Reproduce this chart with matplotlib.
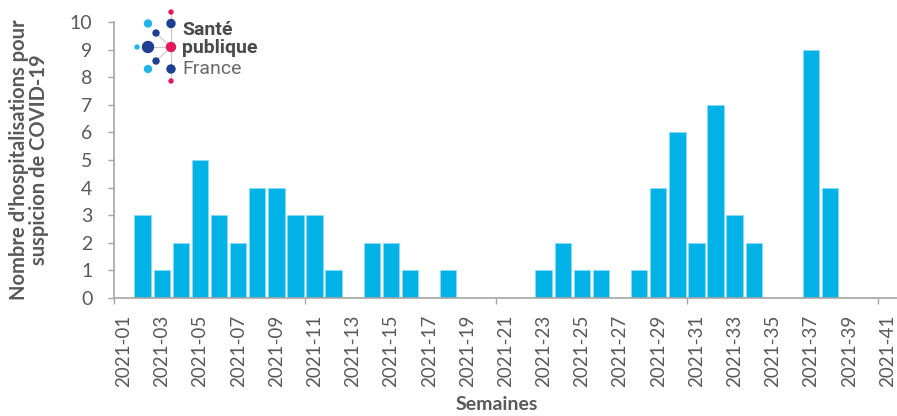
import numpy as np
import matplotlib.pyplot as plt
from matplotlib.patches import Circle

# Data
weeks = [f"2021-{w:02d}" for w in range(1, 42)]
counts = [0, 3, 1, 2, 5, 3, 2, 4, 4, 3, 3, 1, 0, 2, 2, 1, 0, 1, 0, 0, 0,
          0, 1, 2, 1, 1, 0, 1, 4, 6, 2, 7, 3, 2, 0, 0, 9, 4, 0, 0, 0]

text_grey = '#595959'
axis_grey = '#A6A6A6'
bar_blue = '#00B2E6'

plt.rcParams['font.family'] = ['Lato', 'DejaVu Sans']

fig = plt.figure(figsize=(8.97, 4.16), dpi=100)
ax = fig.add_axes([114 / 897, 1 - 298 / 416, 783 / 897, 276 / 416])

x = np.arange(len(weeks))
ax.bar(x, counts, width=0.86, color=bar_blue, edgecolor='#8ADAF5', linewidth=0.6)

ax.set_xlim(-0.5, len(weeks) - 0.5)
ax.set_ylim(0, 10)

# Y axis
ax.set_yticks(range(0, 11))
ax.tick_params(axis='y', length=4.5, width=1, color=axis_grey, pad=11,
               labelsize=14, labelcolor=text_grey)

# X axis: marks between categories every 10 weeks, labels every 2 weeks
ax.set_xticks(np.arange(-0.5, len(weeks), 10))
ax.set_xticklabels([])
ax.tick_params(axis='x', which='major', length=4.5, width=1, color=axis_grey)
ax.set_xticks(x[::2], minor=True)
ax.set_xticklabels(weeks[::2], minor=True, rotation=90)
ax.tick_params(axis='x', which='minor', length=0, pad=12,
               labelsize=13.5, labelcolor=text_grey)

for side in ['top', 'right']:
    ax.spines[side].set_visible(False)
for side in ['left', 'bottom']:
    ax.spines[side].set_color(axis_grey)
    ax.spines[side].set_linewidth(1.2)

fig.text(29 / 897, 1 - 160 / 416, "Nombre d'hospitalisations pour\nsuspicion de COVID-19",
         rotation=90, ha='center', va='center', fontsize=14.5, fontweight='bold',
         color=text_grey, linespacing=1.05)
fig.text(497 / 897, 1 - 405 / 416, 'Semaines', ha='center', va='center',
         fontsize=14, fontweight='bold', color=text_grey)

# Logo Santé publique France (pixel coordinates overlay)
lg = fig.add_axes([0, 0, 1, 1])
lg.set_xlim(0, 897)
lg.set_ylim(416, 0)
lg.axis('off')
lg.patch.set_alpha(0)

dark = '#1F3F94'
light = '#20B4E8'
pink = '#E5185D'
centre = (171, 47)
for (px, py) in [(171, 12), (171, 81), (148, 47), (156, 33), (156, 61)]:
    lg.plot([centre[0], px], [centre[1], py], color='#C8C8C8', lw=0.8, zorder=1)

dots = [
    (171, 12, 2, pink), (171, 23.5, 4, dark), (148, 23.5, 3.5, light),
    (156, 33, 3, dark), (148, 47, 5.5, dark), (137, 47, 2, light),
    (171, 47, 4.5, pink), (156, 61, 3, dark), (148, 69, 3.5, light),
    (171, 69, 4, dark), (171, 81, 2, pink),
]
for px, py, r, c in dots:
    lg.add_patch(Circle((px, py), r, color=c, zorder=2))

logo_font = ['Roboto', 'DejaVu Sans']
lg.text(182, 30, 'Santé', fontsize=14, fontweight='bold', color='#4A4A4A',
        va='center', ha='left', family=logo_font)
lg.text(182, 48, 'publique', fontsize=14, fontweight='bold', color='#4A4A4A',
        va='center', ha='left', family=logo_font)
lg.text(182, 69, 'France', fontsize=14, color='#6A6A6A',
        va='center', ha='left', family=logo_font)

fig.savefig('out.png', dpi=100)
